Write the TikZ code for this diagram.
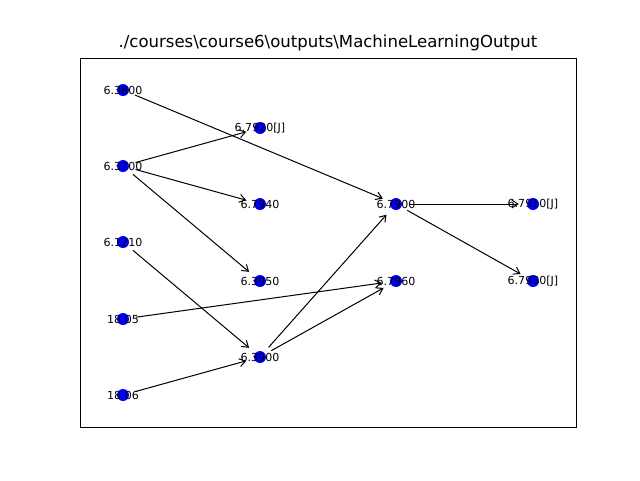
\documentclass[tikz,border=0pt]{standalone}
\usepackage{fontspec}
\setmainfont{DejaVu Sans}
\usetikzlibrary{arrows.meta}
\definecolor{nodeblue}{RGB}{0,0,255}
\tikzset{
  dot/.style={circle,fill=nodeblue,draw=none,minimum size=9pt,inner sep=0pt},
  lbl/.style={font=\fontsize{8.3pt}{10pt}\selectfont,inner sep=0pt},
  edge/.style={line width=0.75pt,-{Straight Barb[length=4.5pt,width=6pt]},shorten <=5pt,shorten >=6pt}
}
\begin{document}
\begin{tikzpicture}[x=0.75pt,y=-0.75pt]
\useasboundingbox (0,0) rectangle (640,480);
\fill[white] (0,0) rectangle (640,480);
\draw[line width=0.6pt] (80,58) rectangle (576,427);
\node (title) at (328,43) {\fontsize{12.4pt}{15pt}\selectfont ./courses\textbackslash course6\textbackslash outputs\textbackslash MachineLearningOutput};
% nodes
\node[dot] (a1) at (123,90) {};
\node[dot] (a2) at (123,166) {};
\node[dot] (a3) at (123,242) {};
\node[dot] (a4) at (123,319) {};
\node[dot] (a5) at (123,395) {};
\node[dot] (b1) at (260,128) {};
\node[dot] (b2) at (260,204) {};
\node[dot] (b3) at (260,281) {};
\node[dot] (b4) at (260,357) {};
\node[dot] (c1) at (396,204) {};
\node[dot] (c2) at (396,281) {};
\node[dot] (d1) at (533,204) {};
\node[dot] (d2) at (533,281) {};
% edges
\draw[edge] (a1) -- (c1);
\draw[edge] (a2) -- (b1);
\draw[edge] (a2) -- (b2);
\draw[edge] (a2) -- (b3);
\draw[edge] (a3) -- (b4);
\draw[edge] (a4) -- (c2);
\draw[edge] (a5) -- (b4);
\draw[edge] (b4) -- (c1);
\draw[edge] (b4) -- (c2);
\draw[edge] (c1) -- (d1);
\draw[edge] (c1) -- (d2);
% labels
\node[lbl] (la1) at (a1) {6.3800};
\node[lbl] (la2) at (a2) {6.3700};
\node[lbl] (la3) at (a3) {6.1210};
\node[lbl] (la4) at (a4) {18.05};
\node[lbl] (la5) at (a5) {18.06};
\node[lbl] (lb1) at (b1) {6.7920[J]};
\node[lbl] (lb2) at (b2) {6.7940};
\node[lbl] (lb3) at (b3) {6.3950};
\node[lbl] (lb4) at (b4) {6.3900};
\node[lbl] (lc1) at (c1) {6.7900};
\node[lbl] (lc2) at (c2) {6.7960};
\node[lbl] (ld1) at (d1) {6.7910[J]};
\node[lbl] (ld2) at (d2) {6.7930[J]};
\end{tikzpicture}
\end{document}
